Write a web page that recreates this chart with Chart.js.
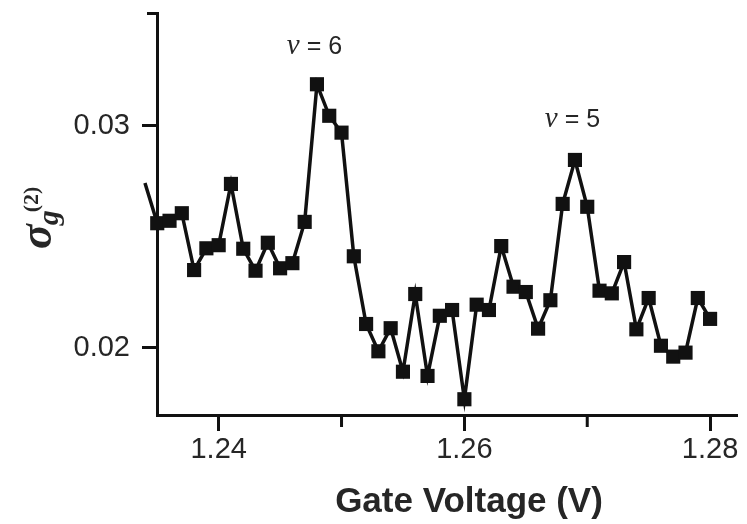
<!DOCTYPE html>
<html>
<head>
<meta charset="utf-8">
<script src="https://cdn.jsdelivr.net/npm/chart.js@4.4.1/dist/chart.umd.min.js"></script>
<style>
  body { margin: 0; background: #fff; }
  canvas { display: block; }
</style>
</head>
<body>
<canvas id="myChart" width="747" height="524"></canvas>
<script>
const voltages = [1.234, 1.235, 1.236, 1.237, 1.238, 1.239, 1.240, 1.241, 1.242, 1.243, 1.244, 1.245,
	1.246, 1.247, 1.248, 1.249, 1.250, 1.251, 1.252, 1.253, 1.254, 1.255, 1.256, 1.257, 1.258, 1.259,
	1.260, 1.261, 1.262, 1.263, 1.264, 1.265, 1.266, 1.267, 1.268, 1.269, 1.270, 1.271, 1.272, 1.273,
	1.274, 1.275, 1.276, 1.277, 1.278, 1.279, 1.280];
const sigma = [0.02743, 0.02562, 0.02573, 0.02607, 0.02351, 0.02449, 0.02463, 0.02739, 0.02447, 0.02348,
	0.02474, 0.02359, 0.02382, 0.02568, 0.03188, 0.03046, 0.02970, 0.02413, 0.02108, 0.01985, 0.02089,
	0.01893, 0.02243, 0.01874, 0.02145, 0.02171, 0.01769, 0.02195, 0.02171, 0.02459, 0.02276, 0.02252,
	0.02087, 0.02215, 0.02649, 0.02847, 0.02636, 0.02258, 0.02246, 0.02387, 0.02084, 0.02225, 0.02010,
	0.01961, 0.01979, 0.02225, 0.02131];

const xTicks = [1.24, 1.26, 1.28];
const xMinorTicks = [1.25, 1.27];
const yTicks = [0.02, 0.03];
const peakLabels = ["6", "5"];
const peakX = [1.2478, 1.2688];
const peakY = [0.03356, 0.03027];

const X_MIN = 1.23498, X_MAX = 1.28219;
const Y_MIN = 0.01698, Y_MAX = 0.03509;
const INK = "#111";
const TEXT = "#262626";

const points = voltages.map((v, i) => ({ x: v, y: sigma[i] }));

// minor ticks, axis titles and the nu labels
const extras = {
	id: "extras",
	afterDraw(chart) {
		const ctx = chart.ctx;
		const xs = chart.scales.x, ys = chart.scales.y;
		const area = chart.chartArea;
		ctx.save();
		ctx.strokeStyle = INK;
		ctx.lineWidth = 3;
		ctx.beginPath();
		xMinorTicks.forEach(v => {
			const px = xs.getPixelForValue(v);
			ctx.moveTo(px, area.bottom);
			ctx.lineTo(px, area.bottom + 12);
		});
		// cap at the top of the y axis
		ctx.moveTo(area.left - 10, area.top + 0.5);
		ctx.lineTo(area.left, area.top + 0.5);
		ctx.stroke();

		ctx.fillStyle = TEXT;
		ctx.textAlign = "center";
		ctx.textBaseline = "alphabetic";
		ctx.font = "bold 35px 'Liberation Sans', Arial, sans-serif";
		ctx.fillText("Gate Voltage (V)", 469, 512);

		// sigma_g^(2)
		ctx.save();
		ctx.translate(51, 249);
		ctx.rotate(-Math.PI / 2);
		ctx.textAlign = "left";
		ctx.font = "bold italic 46px 'Liberation Serif', serif";
		ctx.fillText("σ", 0, 0);
		const w = ctx.measureText("σ").width;
		ctx.font = "bold italic 30px 'Liberation Serif', serif";
		ctx.fillText("g", w - 1, 7);
		ctx.font = "bold 22px 'Liberation Serif', serif";
		ctx.fillText("(2)", w + 12, -13);
		ctx.restore();

		ctx.textBaseline = "middle";
		ctx.textAlign = "left";
		peakLabels.forEach((t, i) => {
			const cx = xs.getPixelForValue(peakX[i]);
			const cy = ys.getPixelForValue(peakY[i]);
			ctx.font = "italic 29px 'Liberation Serif', serif";
			const nu = "ν";
			const w1 = ctx.measureText(nu).width;
			ctx.font = "25px 'Liberation Sans', Arial, sans-serif";
			const rest = " = " + t;
			const w2 = ctx.measureText(rest).width;
			const x0 = cx - (w1 + w2) / 2;
			ctx.font = "italic 29px 'Liberation Serif', serif";
			ctx.fillText(nu, x0, cy - 1);
			ctx.font = "25px 'Liberation Sans', Arial, sans-serif";
			ctx.fillText(rest, x0 + w1, cy);
		});
		ctx.restore();
	},
};

const config = {
	type: "scatter",
	data: {
		datasets: [
			{
				data: points,
				showLine: true,
				borderColor: INK,
				borderWidth: 3.5,
				backgroundColor: INK,
				pointStyle: "rect",
				pointRadius: (c) => (c.dataIndex === 0 ? 0 : 10),
				pointBorderWidth: 0,
				pointBackgroundColor: INK,
				tension: 0,
				clip: false,
			},
		],
	},
	options: {
		responsive: false,
		animation: false,
		layout: { padding: { top: 13, right: 7, left: 0, bottom: 0 } },
		plugins: {
			legend: { display: false },
			tooltip: { enabled: false },
		},
		scales: {
			x: {
				type: "linear",
				min: X_MIN,
				max: X_MAX,
				afterBuildTicks: (s) => { s.ticks = xTicks.map(v => ({ value: v })); },
				afterFit: (s) => { s.height = 109; s.paddingLeft = 0; s.paddingRight = 0; },
				ticks: {
					callback: (v) => v.toFixed(2),
					font: { family: "'Liberation Sans', Arial, sans-serif", size: 29 },
					color: TEXT,
					padding: 2,
					maxRotation: 0,
					autoSkip: false,
				},
				grid: { drawOnChartArea: false, drawTicks: true, tickLength: 16, tickWidth: 3, tickColor: INK },
				border: { display: true, width: 3, color: INK },
			},
			y: {
				type: "linear",
				min: Y_MIN,
				max: Y_MAX,
				afterBuildTicks: (s) => { s.ticks = yTicks.map(v => ({ value: v })); },
				afterFit: (s) => { s.width = 157; s.paddingTop = 0; s.paddingBottom = 0; },
				ticks: {
					callback: (v) => v.toFixed(2),
					font: { family: "'Liberation Sans', Arial, sans-serif", size: 29 },
					color: TEXT,
					padding: 12,
				},
				grid: { drawOnChartArea: false, drawTicks: true, tickLength: 15, tickWidth: 3, tickColor: INK },
				border: { display: true, width: 3, color: INK },
			},
		},
	},
	plugins: [extras],
};
const myChart = new Chart(document.getElementById("myChart"), config);
</script>
</body>
</html>
